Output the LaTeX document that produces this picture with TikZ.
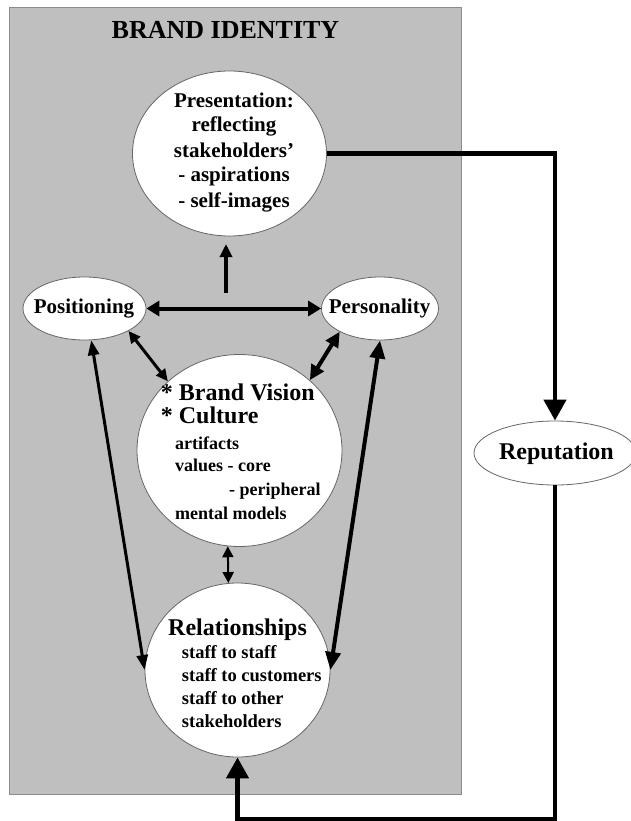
\documentclass[tikz,border=0pt]{standalone}
\usepackage{fontspec}
\setmainfont{Liberation Serif}
\usetikzlibrary{shapes.geometric,arrows.meta}

\begin{document}
\begin{tikzpicture}[x=1pt,y=-1pt,
  panel/.style={draw=black!45, line width=1.2pt, fill=black!25, inner sep=0pt, anchor=north west},
  bubble/.style={ellipse, draw=black!60, line width=0.8pt, fill=white, inner sep=0pt},
  lbl/.style={inner sep=0pt, font=\fontsize{#1}{#1}\selectfont\bfseries},
  lbl/.default=18,
  bigarrow/.style={line width=4.5pt, -{Triangle[length=21pt,width=22pt]}},
  link/.style={line width=#1},
]
\useasboundingbox (0,0) rectangle (630,821);

% the identity panel
\node[panel, minimum width=452pt, minimum height=787pt] (panel) at (9,7) {};
\node[lbl=26, anchor=base] (title) at (225.5,39) {BRAND IDENTITY};

% bubbles
\node[bubble, minimum width=194pt, minimum height=165pt] (pres) at (229.5,153.5) {};
\node[bubble, minimum width=123pt, minimum height=63pt] (posi) at (84.5,308.5) {};
\node[bubble, minimum width=117pt, minimum height=63pt] (pers) at (380,308.5) {};
\node[bubble, minimum width=205pt, minimum height=192pt] (cult) at (239.5,450.5) {};
\node[bubble, minimum width=185pt, minimum height=174pt] (rela) at (237.5,670) {};
\node[bubble, minimum width=162pt, minimum height=64pt] (repu) at (555,453) {};

% texts (a multi-line node sits on the baseline of its last line)
\node[lbl=21, anchor=base, align=center, font=\fontsize{21}{25}\selectfont\bfseries] (prestext) at (234,207)
  {Presentation:\\reflecting\\stakeholders’\\- aspirations\\- self-images};
\node[lbl=21, anchor=base] (positext) at (84,313) {Positioning};
\node[lbl=21, anchor=base] (perstext) at (379.5,313) {Personality};
\node[lbl=24, anchor=base] (reputext) at (556.5,459) {Reputation};

\node[lbl=24, anchor=base west] (cvision) at (160.7,400) {* Brand Vision};
\node[lbl=24, anchor=base west] (cculture) at (160.7,423) {* Culture};
\node[lbl, anchor=base west] (cartifacts) at (175,449) {artifacts};
\node[lbl, anchor=base west] (cvalues) at (175,471) {values - core};
\node[lbl, anchor=base west] (cperiph) at (229,495) {- peripheral};
\node[lbl, anchor=base west] (cmental) at (175,519) {mental models};

\node[lbl=24, anchor=base west] (rtitle) at (168,635) {Relationships};
\node[lbl=18.5, anchor=base west] (rstaff) at (181.7,658) {staff to staff};
\node[lbl=18.5, anchor=base west] (rcust) at (181.7,681) {staff to customers};
\node[lbl=18.5, anchor=base west] (rother) at (181.7,704) {staff to other};
\node[lbl=18.5, anchor=base west] (rstake) at (181.7,727) {stakeholders};

% connectors inside the panel
\coordinate (stem) at (226,293);
\coordinate (stemtip) at (226,244);
\draw[link=3.5pt, -{Triangle[length=13pt,width=12pt]}] (stem) -- (stemtip);
\draw[link=4pt, {Triangle[length=13pt,width=15pt]}-{Triangle[length=13pt,width=15pt]}] (posi.east) -- (pers.west);
\draw[link=3pt, {Triangle[length=12pt,width=11pt]}-{Triangle[length=12pt,width=11pt]}] (posi.-27) -- (cult.136);
\draw[link=4pt, {Triangle[length=15pt,width=14pt]}-{Triangle[length=15pt,width=14pt]}] (pers.210) -- (cult.45);
\draw[link=3pt, {Triangle[length=15pt,width=11pt]}-{Triangle[length=15pt,width=11pt]}] (posi.-78) -- (rela.west);
\draw[link=4pt, {Triangle[length=18pt,width=15pt]}-{Triangle[length=18pt,width=15pt]}] (pers.south) -- (rela.east);
\draw[link=2pt, {Triangle[length=11pt,width=11pt]}-{Triangle[length=11pt,width=11pt]}] (cult.-97) -- (rela.96);

% loop through reputation
\draw[bigarrow] (pres.east) -| (repu.north);
\coordinate (corner) at (555,819);
\draw[bigarrow] (repu.south) -- (corner) -| (rela.south);
\end{tikzpicture}
\end{document}
